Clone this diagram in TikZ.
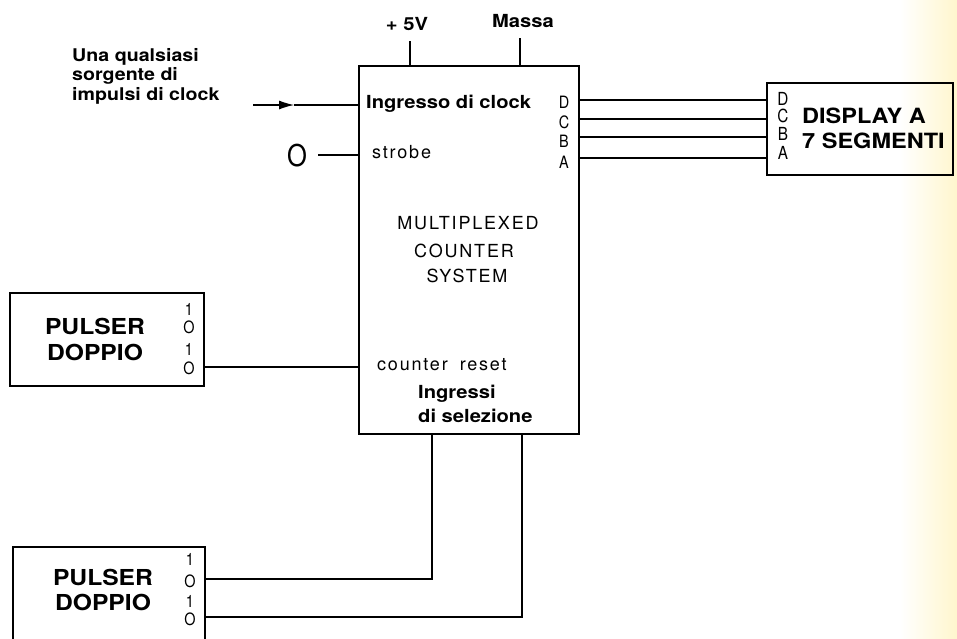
\documentclass[tikz,border=0pt]{standalone}
\usepackage{fontspec}
\setmainfont{TeX Gyre Heros}[FakeStretch=1.12]
\newfontfamily\spacedfont{TeX Gyre Heros}[LetterSpace=10]
\newfontfamily\narrowfont{TeX Gyre Heros}[FakeStretch=0.85]
\usetikzlibrary{arrows.meta}
\definecolor{scantint}{RGB}{255,246,205}
\tikzset{
  box/.style={draw, line width=1.4pt, inner sep=0pt},
  wire/.style={line width=1.1pt},
  lbl/.style={inner sep=0pt, font=\fontsize{18}{20}\selectfont\bfseries},
  srclbl/.style={inner sep=0pt, font=\fontsize{17.5}{20}\selectfont\bfseries},
  big/.style={inner sep=0pt, font=\fontsize{21}{24}\selectfont\bfseries},
  pulsertxt/.style={inner sep=0pt, font=\fontsize{22}{24}\selectfont\bfseries},
  thin/.style={inner sep=0pt, font=\fontsize{18}{20}\selectfont\spacedfont},
  pin/.style={inner sep=0pt, font=\fontsize{17}{18}\selectfont\narrowfont},
  dpin/.style={inner sep=0pt, font=\fontsize{18}{18}\selectfont\narrowfont},
  ppin/.style={inner sep=0pt, font=\fontsize{17}{18}\selectfont\narrowfont},
}
\begin{document}
\begin{tikzpicture}[x=1pt,y=-1pt]
\useasboundingbox (0,0) rectangle (957,638);
\fill[left color=white, right color=scantint] (900,0) rectangle (957,638);

% boxes
\node[box, minimum width=220pt, minimum height=368pt] (mcs) at (469,250) {};
\node[box, minimum width=186pt, minimum height=92pt] (disp) at (860,129) {};
\node[box, minimum width=194pt, minimum height=93pt] (p1) at (107,339.5) {};
\node[box, minimum width=192pt, minimum height=103pt] (p2) at (109,598.5) {};

% top labels
\node[lbl, anchor=base] (v5l) at (407,30) {+ 5V};
\node[lbl, anchor=base] (gndl) at (523,27) {Massa};
\coordinate (v5) at (410,41);
\coordinate (gnd) at (520,38);
\draw[wire] (v5) -- (v5 |- mcs.north);
\draw[wire] (gnd) -- (gnd |- mcs.north);

% clock source
\node[srclbl, anchor=base west] (src1) at (72,61) {Una qualsiasi};
\node[srclbl, anchor=base west] (src2) at (72,80) {sorgente di};
\node[srclbl, anchor=base west] (src3) at (72,100) {impulsi di clock};
\coordinate (clksrc) at (253,105);
\coordinate (clkarr) at (294,105);
\draw[wire, -{Latex[length=15pt,width=9pt]}] (clksrc) -- (clkarr);
\draw[wire] (clkarr) -- (clksrc -| mcs.west);
\node[lbl, anchor=base west] (clkin) at (366,108) {Ingresso di clock};

% strobe
\node[inner sep=0pt, font=\fontsize{30}{30}\selectfont\narrowfont] (zero) at (297,156) {O};
\coordinate (strb) at (318,155);
\draw[wire] (strb) -- (strb -| mcs.west);
\node[thin, anchor=base west] (strobe) at (372,158) {strobe};

% outputs D C B A
\coordinate (oD) at (579,100);
\coordinate (oC) at (579,119);
\coordinate (oB) at (579,137);
\coordinate (oA) at (579,158);
\draw[wire] (oD) -- (oD -| disp.west);
\draw[wire] (oC) -- (oC -| disp.west);
\draw[wire] (oB) -- (oB -| disp.west);
\draw[wire] (oA) -- (oA -| disp.west);
\node[pin] (mD) at (564,102) {D};
\node[pin] (mC) at (564,122) {C};
\node[pin] (mB) at (564,141) {B};
\node[pin] (mA) at (564,162) {A};

% display
\node[dpin] (dD) at (783,99) {D};
\node[dpin] (dC) at (783,116) {C};
\node[dpin] (dB) at (783,134) {B};
\node[dpin] (dA) at (783,153) {A};
\node[big, anchor=base west] (disp1) at (802,123) {DISPLAY A};
\node[big, anchor=base west] (disp2) at (802,148) {7 SEGMENTI};

% main box text
\node[thin, anchor=base] (mt1) at (468,229) {MULTIPLEXED};
\node[thin, anchor=base] (mt2) at (464,257) {COUNTER};
\node[thin, anchor=base] (mt3) at (467,282) {SYSTEM};
\node[thin, anchor=base west] (cr) at (377,370) {counter\hspace{12pt}reset};
\node[lbl, anchor=base west] (sel1) at (418,398) {Ingressi};
\node[lbl, anchor=base west] (sel2) at (418,422) {di selezione};

% pulser 1
\node[pulsertxt, anchor=base] (p1a) at (95,334) {PULSER};
\node[pulsertxt, anchor=base] (p1b) at (95,360) {DOPPIO};
\node[ppin] (p1l1) at (189,309) {1};
\node[ppin] (p1l2) at (189,327) {O};
\node[ppin] (p1l3) at (189,349) {1};
\node[ppin] (p1l4) at (189,368) {O};
\coordinate (cnt) at (204,367);
\draw[wire] (cnt) -- (cnt -| mcs.west);

% pulser 2
\node[pulsertxt, anchor=base] (p2a) at (103,585) {PULSER};
\node[pulsertxt, anchor=base] (p2b) at (103,610) {DOPPIO};
\node[ppin] (p2l1) at (190,559) {1};
\node[ppin] (p2l2) at (190,581) {O};
\node[ppin] (p2l3) at (190,601) {1};
\node[ppin] (p2l4) at (190,619) {O};
\coordinate (s1) at (432,579);
\coordinate (s2) at (522,617);
\draw[wire] (s1 |- mcs.south) -- (s1) -- (s1 -| p2.east);
\draw[wire] (s2 |- mcs.south) -- (s2) -- (s2 -| p2.east);
\end{tikzpicture}
\end{document}
